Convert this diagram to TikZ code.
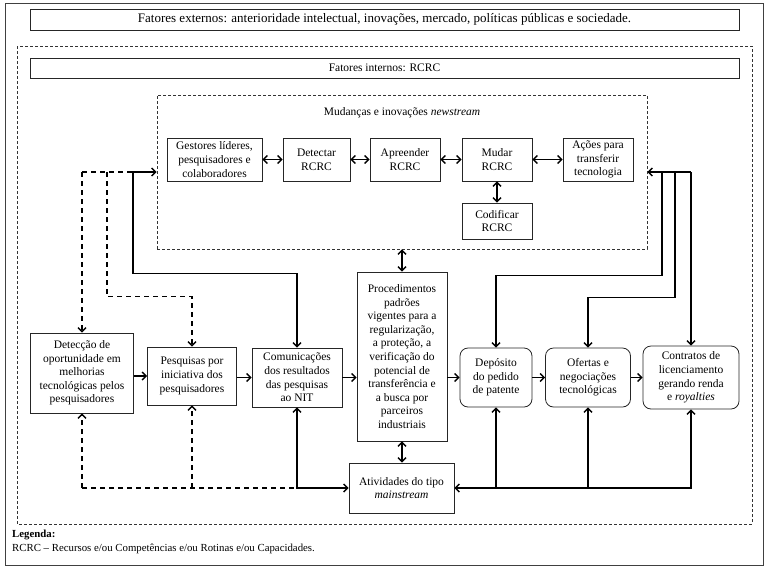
\documentclass[tikz,border=0pt]{standalone}
\usepackage{fontspec}
\setmainfont{Liberation Serif}
\usetikzlibrary{
    arrows.meta,
    calc
}
\tikzset {
    frame/.style = {draw = black!75, line width = 0.8pt},
    dashed frame/.style = {draw = black!80, line width = 0.7pt, dash pattern = on 3pt off 2pt},
    box/.style = {
        draw = black!85,
        line width = 0.8pt,
        align = center,
        inner sep = 1pt,
        font = \fontsize{11.5}{13.6}\selectfont
    },
    round box/.style = {box, rounded corners = 8pt},
    link/.style = {line width = 1.4pt},
    dash link/.style = {link, dash pattern = on 5pt off 4pt},
    oneway/.style = {link, -{Straight Barb[length = 4pt, width = 8pt]}},
    twoway/.style = {
        link,
        {Straight Barb[length = 4pt, width = 8pt]}-{Straight Barb[length = 4pt, width = 8pt]}
    }
}

\begin{document}
\begin{tikzpicture}[x = 1pt, y = -1pt]
    \useasboundingbox (0, 0) rectangle (768, 568);
    \draw [frame] (5, 3) rectangle (763, 565);
    \node (ext) [box, minimum width = 709pt, minimum height = 21pt, font = \fontsize{13}{15}\selectfont] at (384.5, 19.5)
        {Fatores externos: anterioridade intelectual, inovações, mercado, políticas públicas e sociedade.};
    \draw [dashed frame] (17, 46) rectangle (752, 524);
    \node (int) [box, minimum width = 709pt, minimum height = 20pt] at (384.5, 68)
        {Fatores internos: RCRC};
    % newstream
    \node (newstream) [dashed frame, minimum width = 490pt, minimum height = 154pt] at (402, 172) {};
    \node (title) [box, draw = none] at (402, 113) {Mudanças e inovações \textit{newstream}};
    \node (gest) [box, minimum width = 95pt, minimum height = 43pt] at (214.5, 159.5)
        {Gestores líderes,\\pesquisadores e\\colaboradores};
    \node (det) [box, minimum width = 67pt, minimum height = 43pt] at (316.5, 159.5) {Detectar\\RCRC};
    \node (apr) [box, minimum width = 70pt, minimum height = 43pt] at (405, 159.5) {Apreender\\RCRC};
    \node (mudar) [box, minimum width = 70pt, minimum height = 43pt] at (497, 159.5) {Mudar\\RCRC};
    \node (acoes) [box, minimum width = 70pt, minimum height = 43pt] at (598, 159.5)
        {Ações para\\transferir\\tecnologia};
    \node (codif) [box, minimum width = 70pt, minimum height = 36pt] at (497, 221) {Codificar\\RCRC};
    \draw [twoway] (gest) -- (det);
    \draw [twoway] (det) -- (apr);
    \draw [twoway] (apr) -- (mudar);
    \draw [twoway] (mudar) -- (acoes);
    \draw [twoway] (mudar) -- (codif);
    % mainstream
    \node (detec) [box, minimum width = 103pt, minimum height = 80pt] at (82, 373)
        {Detecção de\\oportunidade em\\melhorias\\tecnológicas pelos\\pesquisadores};
    \node (pesq) [box, minimum width = 89pt, minimum height = 58pt] at (192, 376)
        {Pesquisas por\\iniciativa dos\\pesquisadores};
    \node (comun) [box, minimum width = 90pt, minimum height = 59pt] at (297, 377.5)
        {Comunicações\\dos resultados\\das pesquisas\\ao NIT};
    \node (proc) [box, minimum width = 90pt, minimum height = 169pt] at (402, 356.5)
        {Procedimentos\\padrões\\vigentes para a\\regularização,\\a proteção, a\\verificação do\\potencial de\\transferência e\\a busca por\\parceiros\\industriais};
    \node (ativ) [box, minimum width = 105pt, minimum height = 50pt] at (401.5, 488)
        {Atividades do tipo\\\textit{mainstream}};
    \node (depo) [round box, minimum width = 72pt, minimum height = 59pt] at (496, 377.5)
        {Depósito\\do pedido\\de patente};
    \node (ofer) [round box, minimum width = 85pt, minimum height = 59pt] at (588, 377.5)
        {Ofertas e\\negociações\\tecnológicas};
    \node (contr) [round box, minimum width = 96pt, minimum height = 63pt] at (691, 377.5)
        {Contratos de\\licenciamento\\gerando renda\\e \textit{royalties}};
    \draw [oneway] (pesq.west -| detec.east) -- (pesq.west);
    \draw [oneway] (comun.west -| pesq.east) -- (comun.west);
    \draw [oneway] (comun.east) -- (comun.east -| proc.west);
    \draw [oneway] (depo.west -| proc.east) -- (depo.west);
    \draw [oneway] (depo.east) -- (ofer.west);
    \draw [oneway] (ofer.east) -- (contr.west);
    \draw [twoway] (proc.north) -- (proc.north |- newstream.south);
    \draw [twoway] (proc.south) -- (proc.south |- ativ.north);
    % left loops
    \coordinate (fa) at (82, 172);
    \coordinate (fb) at (107, 172);
    \coordinate (fc) at (133, 172);
    \coordinate (ba) at (82, 488);
    \draw [twoway] (comun.north) -- ++(0, -74) -| (fc) -- (newstream.west);
    \draw [dash link] (fa) -- (fc);
    \draw [dash link, oneway] (fa) -- (detec.north);
    \draw [dash link, oneway] (fb) |- ($ (pesq.north) + (0, -50) $) -- (pesq.north);
    \draw [dash link, oneway] (ba) -- (detec.south);
    \draw [dash link] (ba) -- (ba -| comun.south);
    \draw [dash link, oneway] (pesq.south |- ba) -- (pesq.south);
    \draw [twoway] (comun.south) |- (ativ.west);
    % right loops
    \coordinate (ra) at (662, 172);
    \coordinate (rb) at (675, 172);
    \coordinate (rc) at (691, 172);
    \draw [oneway] (rc) -- (newstream.east);
    \draw [oneway] (rc) -- (contr.north);
    \draw [oneway] (ra) |- ($ (depo.north) + (0, -72) $) -- (depo.north);
    \draw [oneway] (rb) |- ($ (ofer.north) + (0, -50) $) -- (ofer.north);
    \draw [twoway] (contr.south) |- (ativ.east);
    \draw [oneway] (depo.south |- ativ.east) -- (depo.south);
    \draw [oneway] (ofer.south |- ativ.east) -- (ofer.south);
    % legenda
    \node (leg) [anchor = west, inner sep = 0pt, font = \fontsize{10.8}{13}\selectfont\bfseries] at (12, 535) {Legenda:};
    \node (legtext) [anchor = west, inner sep = 0pt, font = \fontsize{10.8}{13}\selectfont] at (12, 549)
        {RCRC -- Recursos e/ou Competências e/ou Rotinas e/ou Capacidades.};
\end{tikzpicture}
\end{document}
